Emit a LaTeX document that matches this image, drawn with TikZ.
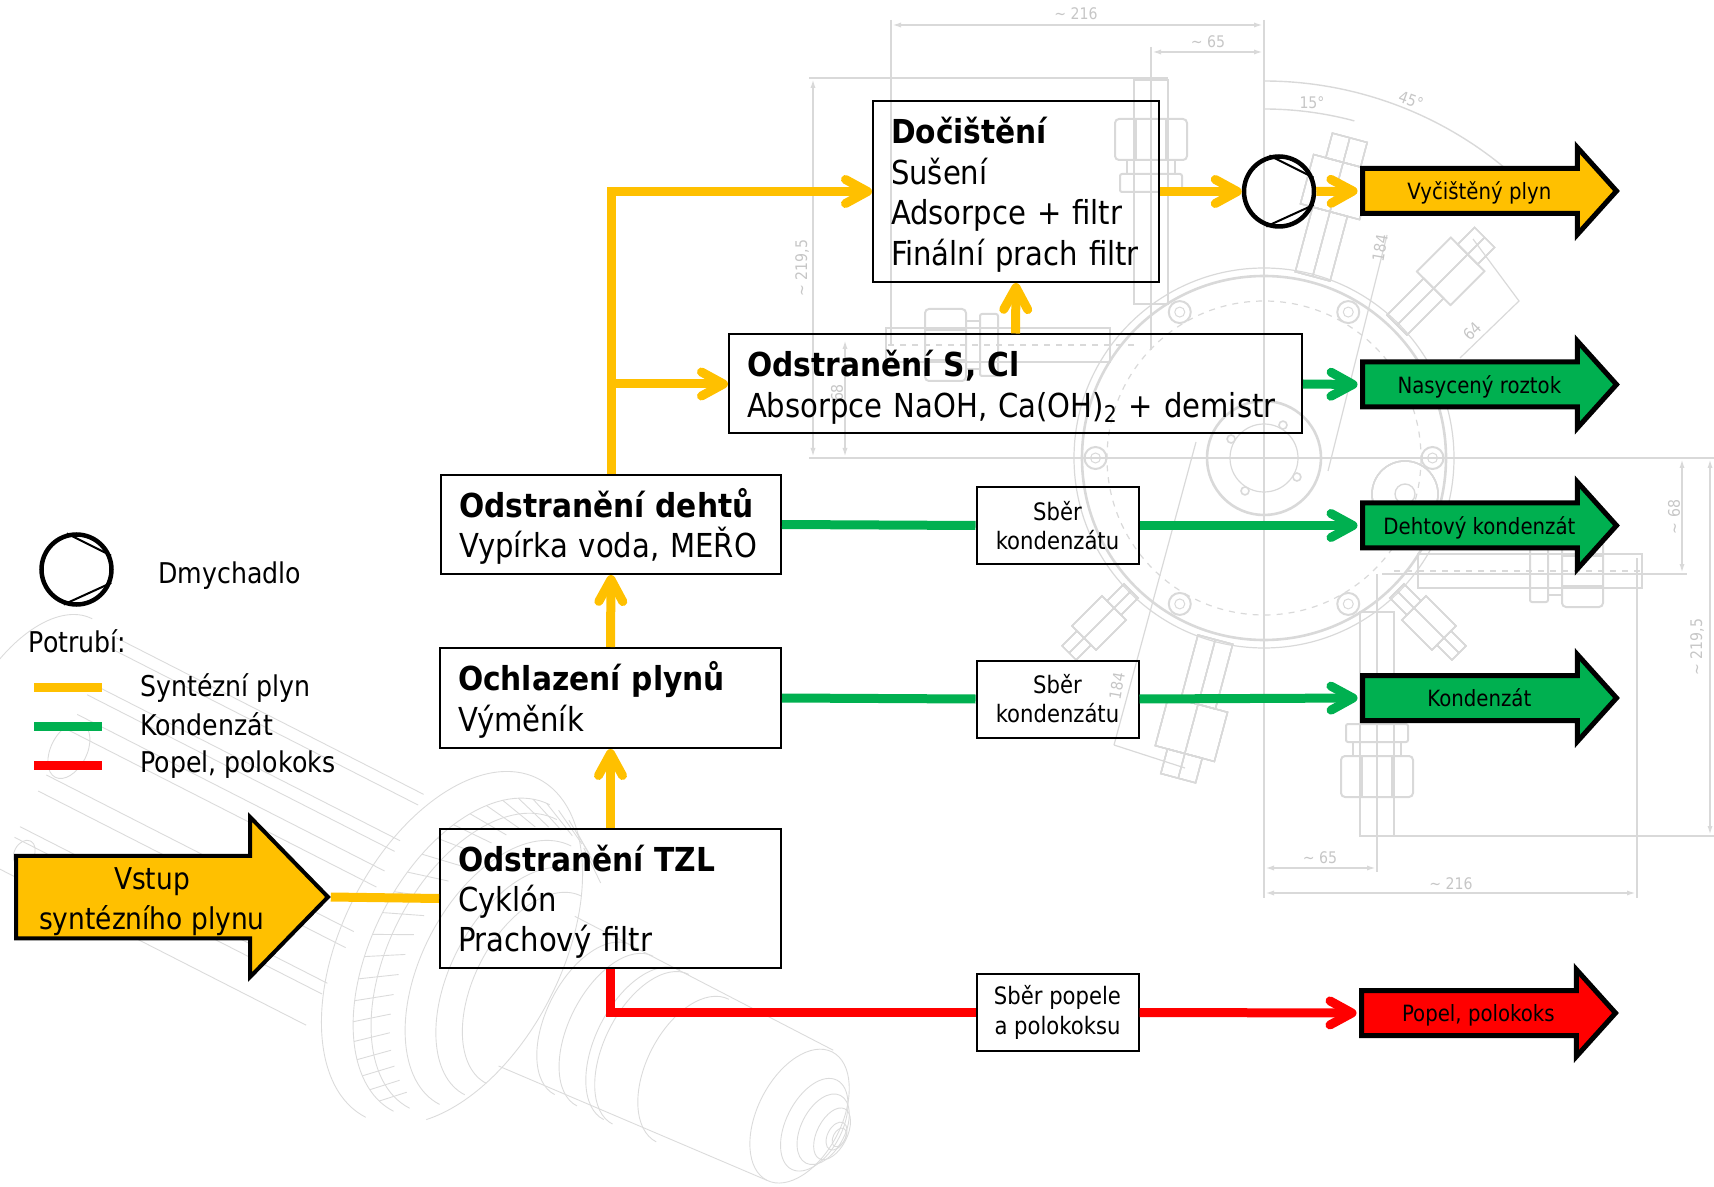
\documentclass[tikz,border=0pt]{standalone}
\usepackage{fontspec}
\setmainfont{DejaVu Sans Condensed}[FakeStretch=.98, BoldFeatures={FakeStretch=1}]
\usetikzlibrary{arrows.meta}
\usetikzlibrary{shapes.arrows}
\definecolor{mgas}{HTML}{FFC000}
\definecolor{mcond}{HTML}{00B050}
\definecolor{mash}{HTML}{FF0000}
\colorlet{mdim}{gray!30}
\colorlet{mpart}{gray!28}
\tikzset{
  procbox/.style 2 args = {draw, line width=1pt, inner xsep=9pt, inner ysep=0pt,
                           text width=#1pt-18pt, minimum height=#2pt, align=left,
                           execute at begin node=\rule{0pt}{16.5pt},
                           font=\fontsize{16.5}{20.2}\selectfont},
  sberbox/.style = {draw, line width=1pt, inner sep=0pt, minimum width=81pt,
                    minimum height=38.5pt, align=center,
                    execute at begin node=\rule{0pt}{12pt},
                    font=\fontsize{12}{14.6}\selectfont},
  outarrow/.style = {draw, line width=2.5pt, single arrow, anchor=tail, inner xsep=0pt,
                     inner ysep=0pt, text height=14.4pt, text depth=5.6pt,
                     minimum height=127pt, minimum width=41pt,
                     single arrow head extend=10.5pt, single arrow tip angle=96,
                     font=\fontsize{11.2}{13}\selectfont},
  pipe/.style = {line width=4.5pt},
  flow/.style = {pipe, -{Straight Barb[round, length=11pt, width=12pt]}},
  pump/.style = {draw, circle, line width=2.25pt, minimum size=35pt, inner sep=0pt},
  swatch/.style = {minimum width=34pt, minimum height=4.5pt, inner sep=0pt},
  legtext/.style = {anchor=west, inner sep=0pt, font=\fontsize{14.3}{17}\selectfont},
  dimline/.style = {mdim, line width=1pt},
  dimtip/.style = {dimline, {Latex[length=5pt,width=2.5pt]}-{Latex[length=5pt,width=2.5pt]}},
  dimtext/.style = {text=gray!45, inner sep=0pt, font=\fontsize{8}{9}\selectfont},
  partline/.style = {mpart, line width=.45pt}
}
\newcommand{\fitting}{
  \draw [dimline, line width=.8pt] (-17, 154) rectangle (17, 378);
  \draw [dimline, rounded corners=2pt] (-36, 298) rectangle (36, 339);
  \draw [dimline, rounded corners=1pt] (-31, 266) rectangle (31, 284);
  \draw [dimline] (-24, 284) rectangle (24, 298);
  \draw [dimline, line width=.6pt] (-15, 298) -- (-15, 339) (15, 298) -- (15, 339);
  \draw [dimline, dashed, line width=.6pt] (0, 130) -- (0, 378);
}
\newcommand{\radial}[3]{
  \begin{scope}[rotate=#1]
    \draw [dimline, line width=.7pt] (-#2, 188) rectangle (#2, #3);
    \draw [dimline, line width=.7pt] (-#2 * 1.7, #3) rectangle (#2 * 1.7, #3 * 1.2);
    \draw [dimline, line width=.7pt] (-#2, #3 * 1.2) rectangle (#2, #3 * 1.3);
    \draw [dimline, line width=.7pt] (0, 188) -- (0, #3 * 1.3);
  \end{scope}
}
\begin{document}
\begin{tikzpicture}[x=.5pt, y=-.5pt]
  \useasboundingbox (0, 0) rectangle (1714, 1187);

  % drawing behind: flange with fittings
  \begin{scope}[shift={(1264, 458)}]
    \draw [dimline, line width=1.3pt] (0, 0) circle [radius=182];
    \draw [dimline, line width=.6pt] (0, 0) circle [radius=190];
    \draw [dimline, line width=.6pt, dashed] (0, 0) circle [radius=157];
    \draw [dimline, line width=1.3pt] (0, 0) circle [radius=57];
    \draw [dimline, line width=.6pt] (0, 0) circle [radius=34];
    \foreach \a in {0, 60, 120, 180, 240, 300} {
      \draw [dimline] (\a : 168.5) circle [radius=11];
      \draw [dimline, line width=.5pt] (\a : 168.5) circle [radius=5];
    }
    \foreach \a in {30, 120, 210, 300}
      \draw [dimline, line width=.8pt] (\a : 38) circle [radius=4];
    \foreach \r/\o in {0/113, 90/-113, 180/113, -90/-113}
      \begin{scope}[rotate=\r, xshift=\o * .5pt]
        \fitting
      \end{scope}
    \radial{-15}{18}{255}
    \radial{165}{18}{255}
    \radial{135}{14}{240}
    \radial{45}{10}{212}
    \radial{-45}{10}{212}
    \draw [dimline, line width=.7pt] (141, 36) circle [radius=33];
    \draw [dimline, line width=.7pt] (141, 36) circle [radius=10];
  \end{scope}

  % dimensions
  \draw [dimline] (1264, 20) -- (1264, 898);
  \draw [dimline, line width=.6pt] (891, 20) -- (891, 345) (1151, 47) -- (1151, 350);
  \draw [dimline, line width=.7pt] (809, 78) -- (1168, 78) (809, 458) -- (1714, 458);
  \draw [dimline, line width=.7pt] (1382, 574) -- (1687, 574) (1360, 836) -- (1714, 836);
  \draw [dimline, line width=.6pt] (1377, 574) -- (1377, 872) (1637, 558) -- (1637, 898);
  \draw [dimtip] (891, 25) -- (1264, 25);
  \draw [dimtip] (1151, 52) -- (1264, 52);
  \draw [dimtip] (813, 78) -- (813, 458);
  \draw [dimtip] (845, 339) -- (845, 458);
  \draw [dimtip] (1682, 458) -- (1682, 574);
  \draw [dimtip] (1710, 458) -- (1710, 836);
  \draw [dimtip] (1264, 868) -- (1377, 868);
  \draw [dimtip] (1264, 893) -- (1637, 893);
  \draw [dimline, line width=.6pt] (1387, 235) -- (1328, 471) (1196, 442) -- (1114, 745);
  \draw [dimline, line width=.6pt] (1114, 745) -- (1185, 768);
  \draw [dimline, line width=.6pt] (1473, 239) -- (1519, 301) -- (1460, 358);
  \draw [dimline, line width=.7pt] (1264, 81) arc [start angle=-90, end angle=-50, radius=377];
  \draw [dimline, line width=.7pt] (1264, 109) arc [start angle=-90, end angle=-75, radius=349];
  \node [dimtext] (dimA) at (1076, 14) {∼ 216};
  \node [dimtext] (dimB) at (1208, 42) {∼ 65};
  \node [dimtext, rotate=90] (dimC) at (802, 268) {∼ 219,5};
  \node [dimtext, rotate=90] (dimD) at (837, 393) {68};
  \node [dimtext] (dimE) at (1312, 103) {15°};
  \node [dimtext, rotate=-20] (dimF) at (1411, 100) {45°};
  \node [dimtext, rotate=80] (dimG) at (1380, 248) {184};
  \node [dimtext, rotate=80] (dimH) at (1117, 686) {184};
  \node [dimtext, rotate=45] (dimI) at (1472, 331) {64};
  \node [dimtext, rotate=90] (dimJ) at (1674, 517) {∼ 68};
  \node [dimtext, rotate=90] (dimK) at (1697, 647) {∼ 219,5};
  \node [dimtext] (dimL) at (1320, 858) {∼ 65};
  \node [dimtext] (dimM) at (1451, 884) {∼ 216};

  % drawing behind: machine body
  \begin{scope}[shift={(452, 948)}, rotate=-27]
    \foreach \a/\rx/\ry in {0/110/190, 22/100/172, 35/95/162, 60/85/145, 78/72/125, 92/60/105}
      \draw [partline] (\a, \ry) arc [start angle=90, end angle=270, x radius=\rx, y radius=\ry];
    \draw [partline] (0, -190) arc [start angle=-90, end angle=60, x radius=110, y radius=190];
    \foreach \t in {100, 108, ..., 300}
      \draw [partline] ({22 + 100 * cos(\t)}, {172 * sin(\t)}) -- ({50 + 90 * cos(\t + 6)}, {155 * sin(\t + 6)});
    \draw [partline] (95, -84) -- (386, -82) (95, 84) -- (386, 64);
    \foreach \a/\rx/\ry in {158/46/84, 183/46/84, 213/46/84, 223/46/84, 270/46/80}
      \draw [partline] (\a, \ry) arc [start angle=90, end angle=270, x radius=\rx, y radius=\ry];
    \draw [partline] (386, -8) ellipse [x radius=42, y radius=72];
    \foreach \a/\rx/\ry in {403/28/50, 413/22/38, 423/15/28, 428/9/15, 431/6/10}
      \draw [partline] (\a, -7) ellipse [x radius=\rx, y radius=\ry];
    \foreach \b in {-124, -112, -72, -60, -38, -20, 30, 48, 88, 100, 135}
      \draw [partline] (-95, \b) -- (-440, \b);
    \draw [partline] (-470, -130) arc [start angle=-90, end angle=-270, x radius=70, y radius=130];
    \draw [partline] (-431, -2) ellipse [x radius=18, y radius=30];
    \draw [partline] (-424, 110) ellipse [x radius=10, y radius=14];
  \end{scope}

  % legend
  \node [pump] (pumpA) at (76.5, 569.5) {};
  \node [legtext] (legPump) at (158, 576) {Dmychadlo};
  \node [legtext] (legPipes) at (28.5, 641) {Potrubí:};
  \node [swatch, fill=mgas] (legGas) at (68, 687) {};
  \node [swatch, fill=mcond] (legCond) at (68, 726) {};
  \node [swatch, fill=mash] (legAsh) at (68, 765) {};
  \node [legtext] (txtGas) at (140, 688) {Syntézní plyn};
  \node [legtext] (txtCond) at (140, 724) {Kondenzát};
  \node [legtext] (txtAsh) at (140, 765) {Popel, polokoks};

  % process boxes
  \node [procbox={170.5}{69.5}] (tzl) at (610.5, 898.5)
    {\textbf{Odstranění TZL}\\Cyklón\\Prachový filtr};
  \node [procbox={170.5}{50}] (cool) at (610.5, 698)
    {\textbf{Ochlazení plynů}\\Výměník};
  \node [procbox={170}{49.5}] (tar) at (611, 524.5)
    {\textbf{Odstranění dehtů}\\Vypírka voda, MEŘO};
  \node [procbox={286.5}{49.5}] (scl) at (1015.5, 384)
    {\textbf{Odstranění S, Cl}\\\mbox{Absorpce NaOH, Ca(OH)\textsubscript{2} + demistr}};
  \node [procbox={143}{90.5}] (finish) at (1016, 191.5)
    {\textbf{Dočištění}\\Sušení\\Adsorpce + filtr\\\mbox{Finální prach filtr}};
  \node [pump] (pumpB) at (1279, 191.5) {};

  \node [sberbox] (sberA) at (1057.5, 525.5) {Sběr\\kondenzátu};
  \node [sberbox] (sberB) at (1057.5, 699) {Sběr\\kondenzátu};
  \node [sberbox] (sberC) at (1057.5, 1012.5) {Sběr popele\\a polokoksu};

  % arrows in and out
  \node [outarrow, fill=mgas, line width=2pt, minimum height=156pt, minimum width=78pt,
         text height=36pt, text depth=3.25pt, single arrow head extend=19.4pt,
         single arrow tip angle=91.5, font=\fontsize{15}{20.2}\selectfont, align=center]
    (inlet) at (14, 897) {Vstup\\syntézního plynu};
  \node [outarrow, fill=mgas] (outA) at (1360, 191) {Vyčištěný plyn};
  \node [outarrow, fill=mcond] (outB) at (1360, 384.5) {Nasycený roztok};
  \node [outarrow, fill=mcond] (outC) at (1360, 525.5) {Dehtový kondenzát};
  \node [outarrow, fill=mcond] (outD) at (1360, 698) {Kondenzát};
  \node [outarrow, fill=mash] (outE) at (1359, 1013) {Popel, polokoks};

  % pipes
  \coordinate (branch) at (tar.north |- scl.west);
  \draw [pipe, mgas] (inlet.tip) -- (tzl.west);
  \draw [flow, mgas] (tzl.north) -- (cool.south);
  \draw [flow, mgas] (cool.north) -- (tar.south);
  \draw [flow, mgas] (tar.north) |- (finish.west);
  \draw [flow, mgas] (branch) -- (scl.west);
  \draw [flow, mgas] (scl.north) -- (finish.south);
  \draw [flow, mgas] (finish.east) -- (pumpB.west);
  \draw [flow, mgas, shorten >=1.25pt] (pumpB.east) -- (outA.tail);
  \draw [flow, mcond, shorten >=1.25pt] (scl.east) -- (outB.tail);
  \draw [pipe, mcond] (tar.east) -- (sberA.west);
  \draw [flow, mcond, shorten >=1.25pt] (sberA.east) -- (outC.tail);
  \draw [pipe, mcond] (cool.east) -- (sberB.west);
  \draw [flow, mcond, shorten >=1.25pt] (sberB.east) -- (outD.tail);
  \draw [pipe, mash] (tzl.south) |- (sberC.west);
  \draw [flow, mash, shorten >=1.25pt] (sberC.east) -- (outE.tail);

  \foreach \p in {pumpA, pumpB} {
    \draw [line width=1pt] (\p.105) -- (\p.22);
    \draw [line width=1pt] (\p.-110) -- (\p.-21);
  }
\end{tikzpicture}
\end{document}
